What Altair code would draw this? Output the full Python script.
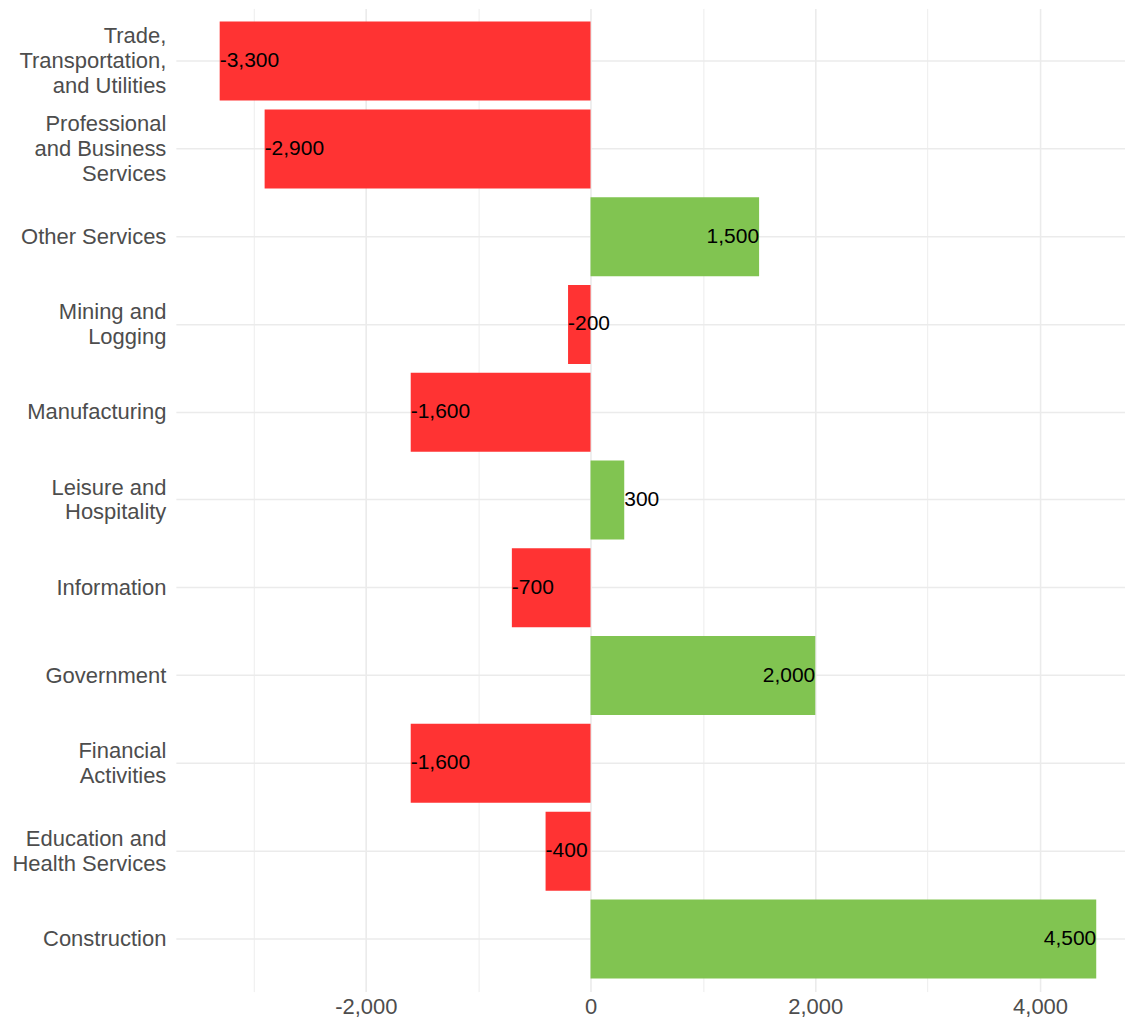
import altair as alt
import pandas as pd

sectors = [
    "Trade,\nTransportation,\nand Utilities",
    "Professional\nand Business\nServices",
    "Other Services",
    "Mining and\nLogging",
    "Manufacturing",
    "Leisure and\nHospitality",
    "Information",
    "Government",
    "Financial\nActivities",
    "Education and\nHealth Services",
    "Construction",
]
changes = [-3300, -2900, 1500, -200, -1600, 300, -700, 2000, -1600, -400, 4500]
value_labels = [f"{v:,}" for v in changes]
signs = ["neg" if v < 0 else "pos" for v in changes]

df = pd.DataFrame({"sector": sectors, "change": changes, "label": value_labels, "sign": signs})

xmin, xmax = -3690, 4756
mid = (-3690 + 4890) / 2

FONT = "Liberation Sans"
LH = 25

y_enc = alt.Y(
    "sector:N",
    sort=sectors,
    scale=alt.Scale(paddingInner=0.1, paddingOuter=0.15),
    axis=alt.Axis(
        title=None,
        grid=True,
        gridColor="#EBEBEB",
        gridWidth=1.5,
        domain=False,
        ticks=False,
        labelFontSize=22,
        labelFont=FONT,
        labelColor="#4D4D4D",
        labelLineHeight=LH,
        labelPadding=10,
        labelLimit=0,
        labelBaseline="middle",
        labelOffset={
            "condition": [
                {"test": "length(split(datum.label, '\\n')) === 3", "value": -LH},
                {"test": "length(split(datum.label, '\\n')) === 2", "value": -LH / 2},
            ],
            "value": 0,
        },
        labelExpr="split(datum.label, '\\n')",
    ),
)

x_enc = alt.X(
    "change:Q",
    scale=alt.Scale(domain=[xmin, xmax], nice=False, zero=False),
    axis=alt.Axis(
        title=None,
        values=list(range(-3000, 5000, 1000)),
        labelExpr="datum.value % 2000 === 0 ? replace(format(datum.value, ','), '\u2212', '-') : ''",
        grid=True,
        gridColor="#EBEBEB",
        gridWidth={"condition": {"test": "datum.value % 2000 === 0", "value": 1.6}, "value": 0.9},
        domain=False,
        ticks=False,
        labelFontSize=22,
        labelFont=FONT,
        labelColor="#4D4D4D",
        labelPadding=5,
        labelFlush=False,
        labelOverlap=False,
    ),
)

base = alt.Chart(df)

bars = base.mark_bar().encode(
    x=x_enc,
    y=y_enc,
    color=alt.Color(
        "sign:N",
        scale=alt.Scale(domain=["neg", "pos"], range=["#FF3333", "#81C451"]),
        legend=None,
    ),
)

text_left = base.transform_filter(f"datum.change < {mid}").mark_text(
    align="left", baseline="middle", fontSize=21, font=FONT, color="black"
).encode(x=alt.X("change:Q"), y=alt.Y("sector:N", sort=sectors), text="label:N")

text_right = base.transform_filter(f"datum.change >= {mid}").mark_text(
    align="right", baseline="middle", fontSize=21, font=FONT, color="black"
).encode(x=alt.X("change:Q"), y=alt.Y("sector:N", sort=sectors), text="label:N")

chart = (
    alt.layer(bars, text_left, text_right)
    .properties(
        width=950,
        height=984,
        padding={"left": 3, "top": 0, "right": 0, "bottom": 0},
    )
    .configure_view(stroke=None)
)

chart.save("out.html", embed_options={"renderer": "svg", "actions": False})
